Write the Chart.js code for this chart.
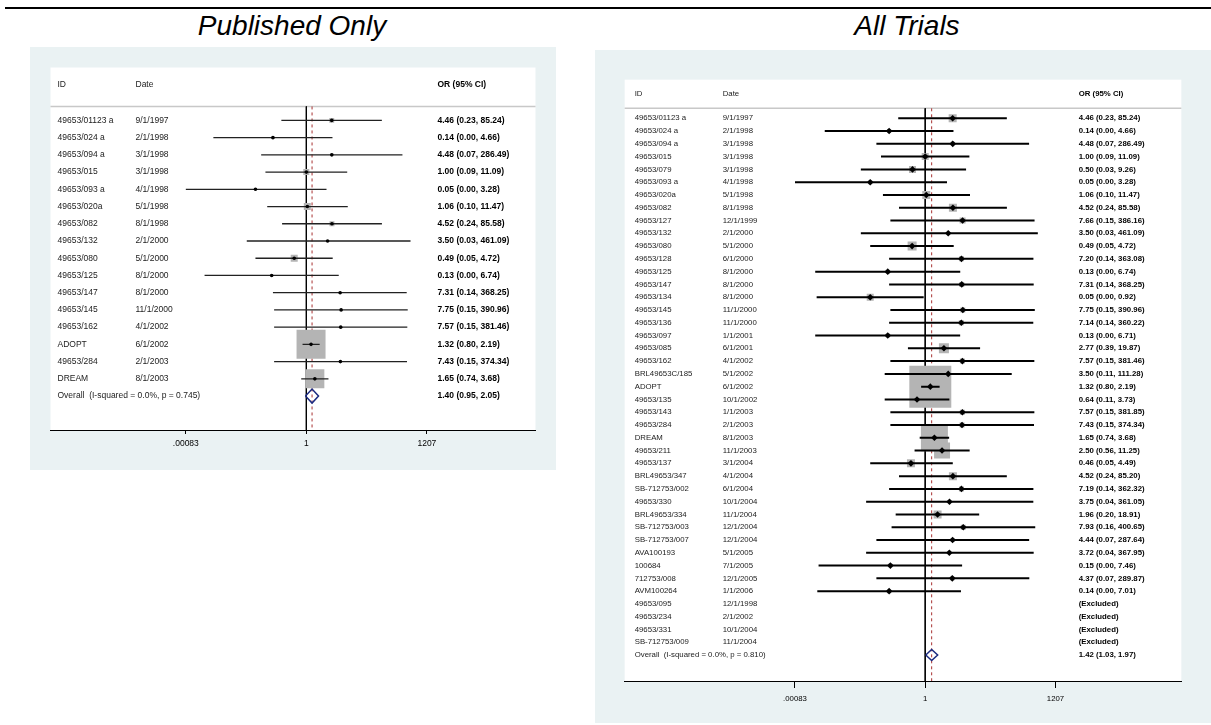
<!DOCTYPE html>
<html>
<head>
<meta charset="utf-8">
<script src="https://cdn.jsdelivr.net/npm/chart.js@4.4.0/dist/chart.umd.min.js"></script>
<style>
  body { margin: 0; background: #fff; width: 1211px; height: 725px; position: relative; overflow: hidden;
         font-family: "Liberation Sans", Arial, Helvetica, sans-serif; }
  .rule { position: absolute; left: 5px; top: 7px; width: 1206px; height: 2px; background: #000; }
  .title { position: absolute; top: 12px; width: 400px; text-align: center; font-size: 28px; line-height: 28px; font-style: italic; color: #000; }
  canvas { position: absolute; }
</style>
</head>
<body>
<div class="rule"></div>
<div class="title" style="left:92px">Published Only</div>
<div class="title" style="left:707px">All Trials</div>
<canvas id="pubChart" width="526" height="423" style="left:30px;top:47px"></canvas>
<canvas id="allChart" width="616" height="673" style="left:595px;top:50px"></canvas>
<script>
// ---- Published only ----
const pubIds = ['49653/01123 a', '49653/024 a', '49653/094 a', '49653/015', '49653/093 a', '49653/020a',
  '49653/082', '49653/132', '49653/080', '49653/125', '49653/147', '49653/145', '49653/162', 'ADOPT',
  '49653/284', 'DREAM'];
const pubDates = ['9/1/1997', '2/1/1998', '3/1/1998', '3/1/1998', '4/1/1998', '5/1/1998', '8/1/1998',
  '2/1/2000', '5/1/2000', '8/1/2000', '8/1/2000', '11/1/2000', '4/1/2002', '6/1/2002', '2/1/2003', '8/1/2003'];
const pubOR = [4.46, 0.14, 4.48, 1.00, 0.05, 1.06, 4.52, 3.50, 0.49, 0.13, 7.31, 7.75, 7.57, 1.32, 7.43, 1.65];
const pubLo = [0.23, 0.0042, 0.07, 0.09, 0.00083, 0.10, 0.24, 0.03, 0.05, 0.0025, 0.14, 0.15, 0.15, 0.80, 0.15, 0.74];
const pubHi = [85.24, 4.66, 286.49, 11.09, 3.28, 11.47, 85.58, 461.09, 4.72, 6.74, 368.25, 390.96, 381.46, 2.19, 374.34, 3.68];
const pubWeight = [1.7, 0.6, 0.6, 2.5, 0.3, 3.4, 1.7, 0.3, 3.4, 0.3, 0.3, 0.3, 0.3, 58.7, 0.3, 25.2];
const pubOverall = [1.40, 0.95, 2.05];
const pubOverallLabel = 'Overall  (I-squared = 0.0%, p = 0.745)';

// ---- All trials ----
const allIds = ['49653/01123 a', '49653/024 a', '49653/094 a', '49653/015', '49653/079', '49653/093 a',
  '49653/020a', '49653/082', '49653/127', '49653/132', '49653/080', '49653/128', '49653/125', '49653/147',
  '49653/134', '49653/145', '49653/136', '49653/097', '49653/085', '49653/162', 'BRL49653C/185', 'ADOPT',
  '49653/135', '49653/143', '49653/284', 'DREAM', '49653/211', '49653/137', 'BRL49653/347', 'SB-712753/002',
  '49653/330', 'BRL49653/334', 'SB-712753/003', 'SB-712753/007', 'AVA100193', '100684', '712753/008',
  'AVM100264', '49653/095', '49653/234', '49653/331', 'SB-712753/009'];
const allDates = ['9/1/1997', '2/1/1998', '3/1/1998', '3/1/1998', '3/1/1998', '4/1/1998', '5/1/1998',
  '8/1/1998', '12/1/1999', '2/1/2000', '5/1/2000', '6/1/2000', '8/1/2000', '8/1/2000', '8/1/2000',
  '11/1/2000', '11/1/2000', '1/1/2001', '6/1/2001', '4/1/2002', '5/1/2002', '6/1/2002', '10/1/2002',
  '1/1/2003', '2/1/2003', '8/1/2003', '11/1/2003', '3/1/2004', '4/1/2004', '6/1/2004', '10/1/2004',
  '11/1/2004', '12/1/2004', '12/1/2004', '5/1/2005', '7/1/2005', '12/1/2005', '1/1/2006', '12/1/1998',
  '2/1/2002', '10/1/2004', '11/1/2004'];
const allOR = [4.46, 0.14, 4.48, 1.00, 0.50, 0.05, 1.06, 4.52, 7.66, 3.50, 0.49, 7.20, 0.13, 7.31, 0.05,
  7.75, 7.14, 0.13, 2.77, 7.57, 3.50, 1.32, 0.64, 7.57, 7.43, 1.65, 2.50, 0.46, 4.52, 7.19, 3.75, 1.96,
  7.93, 4.44, 3.72, 0.15, 4.37, 0.14, null, null, null, null];
const allLo = [0.23, 0.0042, 0.07, 0.09, 0.03, 0.00083, 0.10, 0.24, 0.15, 0.03, 0.05, 0.14, 0.0025, 0.14,
  0.0027, 0.15, 0.14, 0.0025, 0.39, 0.15, 0.11, 0.80, 0.11, 0.15, 0.15, 0.74, 0.56, 0.05, 0.24, 0.14,
  0.04, 0.20, 0.16, 0.07, 0.04, 0.0030, 0.07, 0.0028, null, null, null, null];
const allHi = [85.24, 4.66, 286.49, 11.09, 9.26, 3.28, 11.47, 85.58, 386.16, 461.09, 4.72, 363.08, 6.74,
  368.25, 0.92, 390.96, 360.22, 6.71, 19.87, 381.46, 111.28, 2.19, 3.73, 381.85, 374.34, 3.68, 11.25,
  4.49, 85.20, 362.32, 361.05, 18.91, 400.65, 287.64, 367.95, 7.46, 289.87, 7.01, null, null, null, null];
const allWeight = [1.63, 0.41, 0.41, 1.25, 1.25, 0.41, 1.63, 1.63, 0.92, 0.23, 2.06, 0.64, 0.41, 0.64,
  1.25, 0.64, 0.64, 0.41, 2.54, 0.64, 0.64, 44.8, 0.41, 0.64, 0.64, 18.5, 6.5, 1.63, 1.63, 0.64, 0.23,
  1.63, 0.64, 0.41, 0.23, 0.41, 0.41, 0.41, null, null, null, null];
const allOverall = [1.42, 1.03, 1.97];
const allOverallLabel = 'Overall  (I-squared = 0.0%, p = 0.810)';

const tickValues = [0.00083, 1, 1207];
const tickLabels = ['.00083', '1', '1207'];

const FONT = '"Liberation Sans", Arial, Helvetica, sans-serif';
const PANEL_BG = '#eaf2f3';

function orText(or, lo, hi) {
    if (or === null) return '(Excluded)';
    return or.toFixed(2) + ' (' + lo.toFixed(2) + ', ' + hi.toFixed(2) + ')';
}

function drawForest(canvasId, study, overall, overallLabel, look) {
    const ctx = document.getElementById(canvasId).getContext('2d');
    const overallRow = study.ids.length + 1;
    const idx = study.or.map((v, i) => i).filter(i => study.or[i] !== null);

    const boxes = idx.map(i => ({ x: study.or[i], y: i + 1 }));
    const boxRadius = idx.map(i => look.boxScale * Math.sqrt(study.weight[i]) / Math.SQRT2);
    // confidence intervals as line segments, broken by null points
    const ci = [];
    idx.forEach(i => {
        ci.push({ x: study.lo[i], y: i + 1 }, { x: study.hi[i], y: i + 1 }, { x: null, y: null });
    });
    const marks = idx.map(i => ({ x: study.or[i], y: i + 1 }));
    const h = look.diamondHalf;
    const diamond = [
        { x: overall[1], y: overallRow }, { x: overall[0], y: overallRow - h },
        { x: overall[2], y: overallRow }, { x: overall[0], y: overallRow + h },
        { x: overall[1], y: overallRow }
    ];

    const panel = {
        id: 'panel',
        beforeDraw(chart) {
            const c = chart.ctx, a = chart.chartArea;
            c.save();
            c.fillStyle = PANEL_BG;
            c.fillRect(0, 0, chart.width, chart.height);
            c.fillStyle = '#fff';
            c.fillRect(a.left, a.top, a.right - a.left, a.bottom - a.top);
            const y = chart.scales.y.getPixelForValue(look.ruleRow);
            c.strokeStyle = '#c8c8c8';
            c.lineWidth = 1.5;
            c.beginPath();
            c.moveTo(a.left, y);
            c.lineTo(a.right, y);
            c.stroke();
            c.restore();
        }
    };

    const columns = {
        id: 'columns',
        afterDatasetsDraw(chart) {
            const c = chart.ctx, a = chart.chartArea, ys = chart.scales.y;
            const xId = a.left + look.cols[0], xDate = a.left + look.cols[1], xOr = a.left + look.cols[2];
            const normal = look.fontSize + 'px ' + FONT;
            const bold = 'bold ' + look.fontSize + 'px ' + FONT;
            c.save();
            c.textBaseline = 'middle';
            c.textAlign = 'left';
            let y = ys.getPixelForValue(look.headerRow);
            c.fillStyle = '#222';
            c.font = normal;
            c.fillText('ID', xId, y);
            c.fillText('Date', xDate, y);
            c.fillStyle = '#000';
            c.font = bold;
            c.fillText('OR (95% CI)', xOr, y);
            study.ids.forEach((id, i) => {
                y = ys.getPixelForValue(i + 1);
                c.fillStyle = '#222';
                c.font = normal;
                c.fillText(id, xId, y);
                c.fillText(study.dates[i], xDate, y);
                c.fillStyle = '#000';
                c.font = bold;
                c.fillText(orText(study.or[i], study.lo[i], study.hi[i]), xOr, y);
            });
            y = ys.getPixelForValue(overallRow);
            c.fillStyle = '#222';
            c.font = normal;
            c.fillText(overallLabel, xId, y);
            c.fillStyle = '#000';
            c.font = bold;
            c.fillText(orText(overall[0], overall[1], overall[2]), xOr, y);
            c.restore();
        }
    };

    return new Chart(ctx, {
        type: 'scatter',
        data: {
            datasets: [
                {
                    showLine: true, order: 5,
                    data: [{ x: 1, y: look.ruleRow }, { x: 1, y: look.yMax }],
                    borderColor: '#000', borderWidth: 1, pointRadius: 0
                },
                {
                    showLine: true, order: 4,
                    data: [{ x: overall[0], y: look.ruleRow }, { x: overall[0], y: look.yMax }],
                    borderColor: '#a83232', borderWidth: 1, borderDash: [3, 3], pointRadius: 0
                },
                {
                    order: 3, data: boxes,
                    pointStyle: 'rect', pointRadius: boxRadius,
                    backgroundColor: '#b4b4b4', borderWidth: 0
                },
                {
                    showLine: true, spanGaps: false, order: 2, data: ci,
                    borderColor: look.ciColor, borderWidth: look.ciWidth, pointRadius: 0, borderCapStyle: 'butt'
                },
                {
                    order: 1, data: marks,
                    pointStyle: look.markStyle, pointRadius: look.markRadius,
                    backgroundColor: '#000', borderWidth: 0
                },
                {
                    showLine: true, order: 0, data: diamond,
                    borderColor: '#1b2a80', borderWidth: 1.5, pointRadius: 0, fill: false
                }
            ]
        },
        options: {
            responsive: false,
            animation: false,
            events: [],
            layout: { padding: { left: look.pad[0], top: look.pad[1], right: look.pad[2], bottom: 0 } },
            scales: {
                x: {
                    type: 'logarithmic',
                    min: Math.exp(look.lnMin),
                    max: Math.exp(look.lnMax),
                    afterBuildTicks: s => { s.ticks = tickValues.map(v => ({ value: v })); },
                    afterFit: s => { s.height = look.axisH; },
                    ticks: {
                        autoSkip: false, maxRotation: 0, padding: look.tickPad, color: '#000',
                        font: { family: FONT, size: look.fontSize },
                        callback: (v, i) => tickLabels[i]
                    },
                    grid: { drawOnChartArea: false, tickLength: look.tickLen, tickColor: '#000', tickWidth: 1 },
                    border: { color: '#000', width: 1 }
                },
                y: {
                    type: 'linear', reverse: true, min: look.yMin, max: look.yMax,
                    offset: false, bounds: 'data', grace: 0, display: false
                }
            },
            plugins: { legend: { display: false }, tooltip: { enabled: false } }
        },
        plugins: [panel, columns]
    });
}

drawForest('pubChart',
    { ids: pubIds, dates: pubDates, or: pubOR, lo: pubLo, hi: pubHi, weight: pubWeight },
    pubOverall, pubOverallLabel,
    {
        pad: [19, 20, 16], axisH: 40, yMin: -2.07, yMax: 18.97, headerRow: -1.09, ruleRow: 0.19,
        lnMin: -15.06, lnMax: 13.49, cols: [7, 85, 387], fontSize: 8.5, tickLen: 4, tickPad: 5,
        boxScale: 3.785, ciWidth: 1.3, ciColor: '#222', markStyle: 'circle', markRadius: 1.8, diamondHalf: 0.41
    });

drawForest('allChart',
    { ids: allIds, dates: allDates, or: allOR, lo: allLo, hi: allHi, weight: allWeight },
    allOverall, allOverallLabel,
    {
        pad: [22, 24, 18], axisH: 42, yMin: -2.02, yMax: 45.03, headerRow: -0.94, ruleRow: 0.22,
        lnMin: -16.37, lnMax: 13.95, cols: [10, 98, 454], fontSize: 7.8, tickLen: 7, tickPad: 6,
        boxScale: 6.27, ciWidth: 2, ciColor: '#000', markStyle: 'rectRot', markRadius: 3.3, diamondHalf: 0.43
    });
</script>
</body>
</html>
